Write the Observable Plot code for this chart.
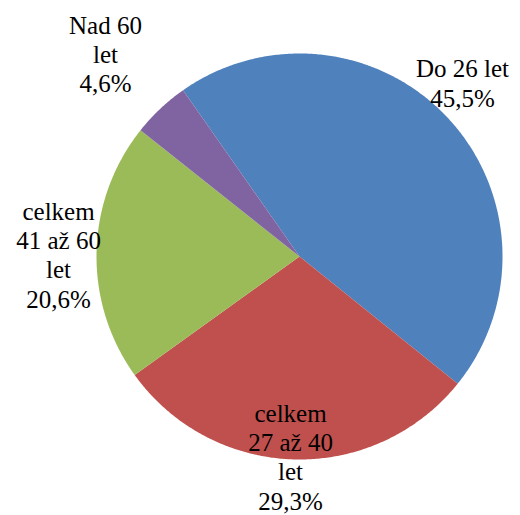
<!DOCTYPE html>
<html>
<head>
<meta charset="utf-8">
<script src="https://cdn.jsdelivr.net/npm/d3@7"></script>
<script src="https://cdn.jsdelivr.net/npm/@observablehq/plot@0.6"></script>
<style>
  html, body { margin: 0; padding: 0; background: #fff; }
  #chart { width: 520px; height: 515px; }
</style>
</head>
<body>
<div id="chart"></div>
<script>
// Data
const categories = ["Do 26 let", "celkem\n27 až 40\nlet", "celkem\n41 až 60\nlet", "Nad 60\nlet"];
const shares = [45.5, 29.3, 20.6, 4.6];
const percentLabels = ["45,5%", "29,3%", "20,6%", "4,6%"];
const colors = ["#4F81BD", "#C0504D", "#9BBB59", "#8064A2"];

// Layout (radius units, y downward)
const startDeg = -35;
const labelAnchors = [[0.803, -0.857], [-0.044, 0.985], [-1.187, -0.01], [-0.956, -1.0]];

const W = 520, H = 515, CX = 299, CY = 256, R = 203;

const pie = d3.pie().sort(null).value(d => d.value)
  .startAngle(startDeg * Math.PI / 180)
  .endAngle((startDeg + 360) * Math.PI / 180);
const slices = pie(categories.map((c, i) => ({name: c, value: shares[i], i})));

const pts = [];
for (const s of slices) {
  const n = Math.max(2, Math.ceil((s.endAngle - s.startAngle) / (Math.PI / 360)));
  pts.push({name: s.data.name, x: 0, y: 0});
  for (let k = 0; k <= n; k++) {
    const a = s.startAngle + (s.endAngle - s.startAngle) * k / n;
    pts.push({name: s.data.name, x: Math.sin(a), y: -Math.cos(a)});
  }
}

const labels = categories.map((c, i) => ({
  text: c + "\n" + percentLabels[i],
  x: labelAnchors[i][0],
  y: labelAnchors[i][1]
}));

const FONT = "Liberation Serif, Times New Roman, DejaVu Serif, serif";

const chart = Plot.plot({
  width: W,
  height: H,
  margin: 0,
  style: {background: "#fff"},
  x: {domain: [-CX / R, (W - CX) / R], range: [0, W], axis: null},
  y: {domain: [-CY / R, (H - CY) / R], range: [0, H], axis: null},
  color: {domain: categories, range: colors},
  marks: [
    Plot.line(pts, {x: "x", y: "y", z: "name", fill: "name", stroke: "none", curve: "linear-closed"}),
    Plot.text(labels, {
      x: "x", y: "y", text: "text",
      fontSize: 25, lineHeight: 1.17, fill: "#000", textAnchor: "middle"
    })
  ]
});
chart.style.fontFamily = FONT;
chart.querySelectorAll("g, text, tspan").forEach(el => {
  el.removeAttribute("font-family");
  el.style.fontFamily = FONT;
});
document.getElementById("chart").appendChild(chart);
</script>
</body>
</html>
